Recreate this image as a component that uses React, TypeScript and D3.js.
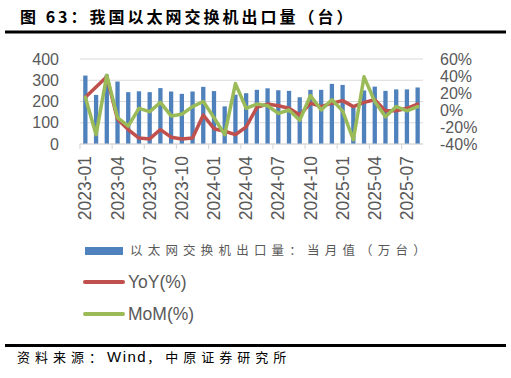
import React from "react";
import * as d3 from "d3";

const months: string[] = [
  "2023-01","2023-02","2023-03","2023-04","2023-05","2023-06","2023-07","2023-08","2023-09","2023-10","2023-11","2023-12",
  "2024-01","2024-02","2024-03","2024-04","2024-05","2024-06","2024-07","2024-08","2024-09","2024-10","2024-11","2024-12",
  "2025-01","2025-02","2025-03","2025-04","2025-05","2025-06","2025-07","2025-08",
];
const volume: number[] = [
  322,231,326,294,244,248,244,263,247,236,247,269,
  249,177,232,239,255,262,253,250,220,255,255,283,
  278,176,252,270,250,257,257,266,
];
const yoy: number[] = [
  15,27,39,-11,-23,-33,-34,-23,-32,-34,-33,-6,
  -22,-25,-29,-20,3,7,5,2,-6,8,4,8,
  11,4,9,12,-1,-1,2,7,
];
const mom: number[] = [
  15,-29,41,-9,-19,2,-2,9,-7,-5,4,10,
  -9,-29,31,2,7,5,-4,0,-12,17,0,12,
  -1,-35,39,10,-8,4,-1,4,
];
const leftTicks: number[] = [0, 100, 200, 300, 400];
const rightTicks: number[] = [-40, -20, 0, 20, 40, 60];

const title = "图 63：我国以太网交换机出口量（台）";
const legendLabels = ["以太网交换机出口量：当月值（万台）", "YoY(%)", "MoM(%)"];
const sourceParts = ["资料来源：", "Wind", "，中原证券研究所"];

const BLUE = "#4F81BD";
const RED = "#C0504D";
const GREEN = "#9BBB59";
const GRID = "#D9D9D9";
const TXT = "#595959";
const FONT = "'Liberation Sans', Arial, 'Noto Sans CJK SC', sans-serif";
const CJK = "'Noto Sans CJK SC', 'Liberation Sans', sans-serif";

export default function App() {
  const left = 80, right = 423, top = 59, bottom = 144;
  const x = d3.scaleBand<string>().domain(months).range([left, right]).padding(0);
  const bw = x.bandwidth();
  const yL = d3.scaleLinear().domain([0, 400]).range([bottom, top]);
  const yR = d3.scaleLinear().domain([-40, 60]).range([bottom, top]);
  const cx = (m: string) => (x(m) as number) + bw / 2;
  const line = d3.line<number>().x((_, i) => cx(months[i])).y((d) => yR(d));
  const barW = 4.3;

  return (
    <svg width={511} height={378} style={{ position: "absolute", left: 0, top: 0, background: "#fff" }}>
      <rect x={0} y={0} width={511} height={378} fill="#fff" />
      <text x={20} y={23} fontFamily={CJK} fontWeight="bold" fontSize={16} letterSpacing={3} fill="#000">{title}</text>
      <line x1={5} x2={506} y1={32} y2={32} stroke="#000" strokeWidth={3} />

      {leftTicks.map((t) => (
        <line key={"g" + t} x1={left} x2={right} y1={yL(t)} y2={yL(t)} stroke={GRID} strokeWidth={1} />
      ))}
      {leftTicks.map((t) => (
        <text key={"l" + t} x={59} y={yL(t)} dy="0.35em" textAnchor="end" fontFamily={FONT} fontSize={16} fill={TXT}>{t}</text>
      ))}
      {rightTicks.map((t) => (
        <text key={"r" + t} x={440} y={yR(t)} dy="0.35em" textAnchor="start" fontFamily={FONT} fontSize={16} fill={TXT}>{t + "%"}</text>
      ))}

      {volume.map((v, i) => (
        <rect key={"b" + i} x={cx(months[i]) - barW / 2} y={yL(v)} width={barW} height={yL(0) - yL(v)} fill={BLUE} />
      ))}

      <line x1={left} x2={right} y1={bottom} y2={bottom} stroke={GRID} strokeWidth={1.2} />
      {months.map((m, i) =>
        i % 3 === 0 ? (
          <line key={"t" + i} x1={x(m) as number} x2={x(m) as number} y1={bottom} y2={bottom + 5} stroke={GRID} strokeWidth={1.2} />
        ) : null
      )}
      {months.map((m, i) =>
        i % 3 === 0 ? (
          <text key={"x" + i} transform={`translate(${cx(m)},156) rotate(-90)`} dy="0.35em" textAnchor="end" fontFamily={FONT} fontSize={17.5} fill={TXT}>{m}</text>
        ) : null
      )}

      <path d={line(yoy) || ""} fill="none" stroke={RED} strokeWidth={3.5} strokeLinejoin="round" strokeLinecap="round" />
      <path d={line(mom) || ""} fill="none" stroke={GREEN} strokeWidth={3.5} strokeLinejoin="round" strokeLinecap="round" />

      <rect x={85} y={247} width={38} height={8} fill={BLUE} />
      <text x={130} y={251} dy="0.35em" fontFamily={CJK} fontSize={12.5} letterSpacing={5.2} fill={TXT}>{legendLabels[0]}</text>
      <line x1={85} x2={123} y1={282} y2={282} stroke={RED} strokeWidth={4} strokeLinecap="round" />
      <text x={128} y={282} dy="0.35em" fontFamily={FONT} fontSize={17.5} fill={TXT}>{legendLabels[1]}</text>
      <line x1={85} x2={123} y1={314} y2={314} stroke={GREEN} strokeWidth={4} strokeLinecap="round" />
      <text x={128} y={314} dy="0.35em" fontFamily={FONT} fontSize={17.5} fill={TXT}>{legendLabels[2]}</text>

      <line x1={5} x2={506} y1={345.5} y2={345.5} stroke="#000" strokeWidth={3} />
      <text x={17} y={362} fontFamily={CJK} fontSize={13} fill="#000">
        <tspan letterSpacing={5}>{sourceParts[0]}</tspan>
        <tspan fontFamily={FONT} fontSize={15} letterSpacing={1.5}>{sourceParts[1]}</tspan>
        <tspan letterSpacing={5}>{sourceParts[2]}</tspan>
      </text>
    </svg>
  );
}
